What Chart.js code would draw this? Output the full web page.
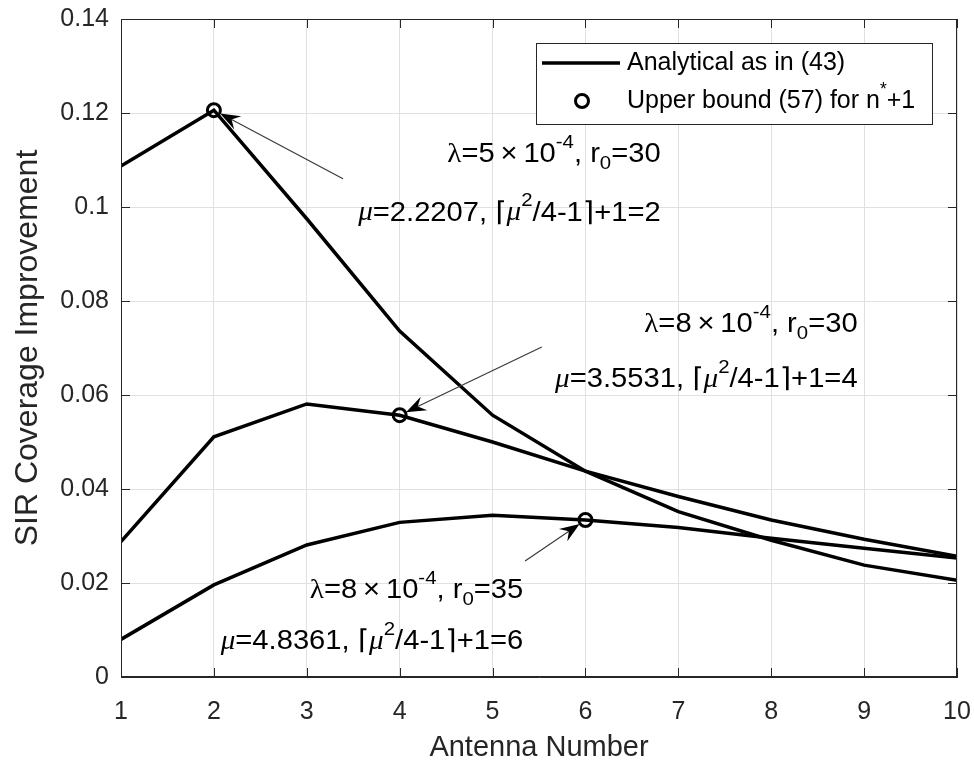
<!DOCTYPE html>
<html>
<head>
<meta charset="utf-8">
<script src="https://cdn.jsdelivr.net/npm/chart.js@4.4.1/dist/chart.umd.min.js"></script>
<style>
    html, body { margin: 0; padding: 0; background: #fff; }
    #wrap { width: 974px; height: 764px; }
</style>
</head>
<body>
<div id="wrap"><canvas id="sirChart" width="974" height="764"></canvas></div>
<script>
// values
const antennas = [1, 2, 3, 4, 5, 6, 7, 8, 9, 10];
const lam5r30 = [0.1087, 0.1206, 0.0975, 0.0736, 0.0557, 0.0438, 0.0352, 0.0291, 0.0238, 0.0206];
const lam8r30 = [0.0288, 0.0511, 0.0581, 0.0557, 0.0500, 0.0438, 0.0384, 0.0334, 0.0293, 0.0257];
const lam8r35 = [0.0080, 0.0196, 0.0281, 0.0329, 0.0344, 0.0334, 0.0318, 0.0295, 0.0274, 0.0253];
const boundAt = [2, 4, 6];          // ceil(mu^2/4-1)+1 for each curve
const yTicks = [0, 0.02, 0.04, 0.06, 0.08, 0.1, 0.12, 0.14];
const lambdas = ['5', '8', '8'];
const r0s = ['30', '30', '35'];
const mus = ['2.2207', '3.5531', '4.8361'];

const series = [lam5r30, lam8r30, lam8r35];
const FONT = "'Liberation Sans', Arial, Helvetica, sans-serif";
const INK = '#262626';

// annotation placement (data units): text right edge, line1 y, line2 y, arrow tail
const notes = [
    { x: 6.81, y1: 0.1111, y2: 0.0987, tail: [3.39, 0.1060] },
    { x: 8.93, y1: 0.0749, y2: 0.0632, tail: [5.53, 0.0702] },
    { x: 5.33, y1: 0.0183, y2: 0.0075, tail: [5.35, 0.0247] }
];

function fontFor(p, size) {
    const sz = (p.s === 'sup' || p.s === 'sub') ? size * 0.7 : size;
    const fam = p.g ? "'Liberation Serif', 'DejaVu Serif', serif" : FONT + ", 'DejaVu Sans'";
    return (p.it ? 'italic ' : '') + sz + 'px ' + fam;
}

function drawRich(ctx, parts, x, y, size, align, sx) {
    let w = 0;
    parts.forEach(p => { ctx.font = fontFor(p, size); w += ctx.measureText(p.t).width; });
    ctx.save();
    ctx.translate(align === 'right' ? x - w * sx : x, y);
    ctx.scale(sx, 1);
    ctx.textBaseline = 'middle';
    ctx.textAlign = 'left';
    let cx = 0;
    parts.forEach(p => {
        ctx.font = fontFor(p, size);
        const dy = p.s === 'sup' ? -size * 0.45 : p.s === 'sub' ? size * 0.32 : 0;
        ctx.fillText(p.t, cx, dy);
        cx += ctx.measureText(p.t).width;
    });
    ctx.restore();
}

function drawArrow(ctx, x0, y0, x1, y1) {
    const a = Math.atan2(y1 - y0, x1 - x0);
    const ux = Math.cos(a), uy = Math.sin(a);
    const L = 20, W = 7.5, N = 13;
    ctx.save();
    ctx.strokeStyle = '#3a3a3a';
    ctx.lineWidth = 1.2;
    ctx.beginPath();
    ctx.moveTo(x0, y0);
    ctx.lineTo(x1 - ux * N, y1 - uy * N);
    ctx.stroke();
    ctx.fillStyle = '#000';
    ctx.beginPath();
    ctx.moveTo(x1, y1);
    ctx.lineTo(x1 - ux * L - uy * W, y1 - uy * L + ux * W);
    ctx.lineTo(x1 - ux * N, y1 - uy * N);
    ctx.lineTo(x1 - ux * L + uy * W, y1 - uy * L - ux * W);
    ctx.closePath();
    ctx.fill();
    ctx.restore();
}

const decorations = {
    id: 'decorations',
    afterDraw(chart) {
        const ctx = chart.ctx;
        const { left, right, top, bottom } = chart.chartArea;
        const xs = chart.scales.x, ys = chart.scales.y;

        // box and inward ticks (matlab style)
        ctx.save();
        ctx.strokeStyle = INK;
        ctx.lineWidth = 1;
        ctx.strokeRect(left + 0.5, top + 0.5, right - left - 1, bottom - top - 1);
        ctx.beginPath();
        antennas.forEach(v => {
            const px = Math.round(xs.getPixelForValue(v)) + 0.5;
            ctx.moveTo(px, bottom); ctx.lineTo(px, bottom - 9);
            ctx.moveTo(px, top); ctx.lineTo(px, top + 9);
        });
        yTicks.forEach(v => {
            const py = Math.round(ys.getPixelForValue(v)) + 0.5;
            ctx.moveTo(left, py); ctx.lineTo(left + 9, py);
            ctx.moveTo(right, py); ctx.lineTo(right - 9, py);
        });
        ctx.stroke();
        ctx.restore();

        // annotations
        ctx.save();
        ctx.fillStyle = '#000';
        notes.forEach((n, i) => {
            const cx = xs.getPixelForValue(boundAt[i]);
            const cy = ys.getPixelForValue(series[i][boundAt[i] - 1]);
            const tx = xs.getPixelForValue(n.tail[0]);
            const ty = ys.getPixelForValue(n.tail[1]);
            const d = Math.hypot(tx - cx, ty - cy);
            drawArrow(ctx, tx, ty, cx + (tx - cx) / d * 7, cy + (ty - cy) / d * 7);

            const xr = xs.getPixelForValue(n.x);
            drawRich(ctx, [
                { t: 'λ', g: true },
                { t: '=' + lambdas[i] + '\u2009×\u200910' },
                { t: '-4', s: 'sup' },
                { t: ', r' },
                { t: '0', s: 'sub' },
                { t: '=' + r0s[i] }
            ], xr, ys.getPixelForValue(n.y1), 27, 'right', 1.08);
            drawRich(ctx, [
                { t: 'μ', g: true, it: true },
                { t: '=' + mus[i] + ', ' },
                { t: '⌈' },
                { t: 'μ', g: true, it: true },
                { t: '2', s: 'sup' },
                { t: '/4-1' },
                { t: '⌉' },
                { t: '+1=' + boundAt[i] }
            ], xr, ys.getPixelForValue(n.y2), 27, 'right', 1.08);
        });
        ctx.restore();

        // legend box
        const lx0 = right - 25 - 396, ly0 = top + 24, lw = 396, lh = 81;
        ctx.save();
        ctx.fillStyle = '#fff';
        ctx.fillRect(lx0, ly0, lw, lh);
        ctx.strokeStyle = INK;
        ctx.lineWidth = 1;
        ctx.strokeRect(lx0 + 0.5, ly0 + 0.5, lw, lh);
        ctx.strokeStyle = '#000';
        ctx.lineWidth = 3.5;
        ctx.beginPath();
        ctx.moveTo(lx0 + 6, ly0 + 20);
        ctx.lineTo(lx0 + 84, ly0 + 20);
        ctx.stroke();
        ctx.lineWidth = 3;
        ctx.beginPath();
        ctx.arc(lx0 + 46, ly0 + 58, 6.5, 0, Math.PI * 2);
        ctx.stroke();
        ctx.fillStyle = '#000';
        drawRich(ctx, [{ t: chart.data.datasets[1].label }], lx0 + 91, ly0 + 20, 25, 'left', 1);
        drawRich(ctx, [
            { t: 'Upper bound (57) for n' },
            { t: '*', s: 'sup' },
            { t: '+1' }
        ], lx0 + 91, ly0 + 58, 25, 'left', 1);
        ctx.restore();
    }
};

const lineSet = (label, vals) => ({
    label: label,
    data: antennas.map((n, i) => ({ x: n, y: vals[i] })),
    borderColor: '#000',
    borderWidth: 3.5,
    pointRadius: 0,
    tension: 0,
    fill: false
});

new Chart(document.getElementById('sirChart').getContext('2d'), {
    type: 'line',
    data: {
        datasets: [
            {
                label: 'Upper bound (57) for n*+1',
                data: boundAt.map((n, i) => ({ x: n, y: series[i][n - 1] })),
                showLine: false,
                pointRadius: 6.5,
                pointBorderWidth: 3,
                borderWidth: 3,
                borderColor: '#000',
                backgroundColor: 'rgba(0,0,0,0)'
            },
            lineSet('Analytical as in (43)', lam5r30),
            lineSet('lambda=8e-4, r0=30', lam8r30),
            lineSet('lambda=8e-4, r0=35', lam8r35)
        ]
    },
    options: {
        responsive: false,
        animation: false,
        layout: { padding: { top: 19, right: 17, left: 0, bottom: 0 } },
        plugins: { legend: { display: false }, tooltip: { enabled: false } },
        scales: {
            x: {
                type: 'linear',
                min: 1,
                max: 10,
                afterBuildTicks: s => { s.ticks = antennas.map(v => ({ value: v })); },
                afterFit: s => { s.height = 87; s.paddingLeft = 0; s.paddingRight = 0; },
                grid: { color: '#e0e0e0', drawTicks: false },
                border: { color: INK },
                ticks: { color: INK, padding: 20, maxRotation: 0, font: { family: FONT, size: 25 } },
                title: {
                    display: true,
                    text: 'Antenna Number',
                    color: INK,
                    font: { family: FONT, size: 29, lineHeight: 1 },
                    padding: { top: 0, bottom: 2 }
                }
            },
            y: {
                min: 0,
                max: 0.14,
                afterBuildTicks: s => { s.ticks = yTicks.map(v => ({ value: v })); },
                afterFit: s => { s.width = 121; s.paddingTop = 0; s.paddingBottom = 0; },
                grid: { color: '#e0e0e0', drawTicks: false },
                border: { color: INK },
                ticks: {
                    color: INK,
                    padding: 12,
                    font: { family: FONT, size: 25 },
                    callback: v => String(+v.toFixed(2))
                },
                title: {
                    display: true,
                    text: 'SIR Coverage Improvement',
                    color: INK,
                    font: { family: FONT, size: 32, lineHeight: 1 },
                    padding: { top: 12, bottom: 0 }
                }
            }
        }
    },
    plugins: [decorations]
});
</script>
</body>
</html>
